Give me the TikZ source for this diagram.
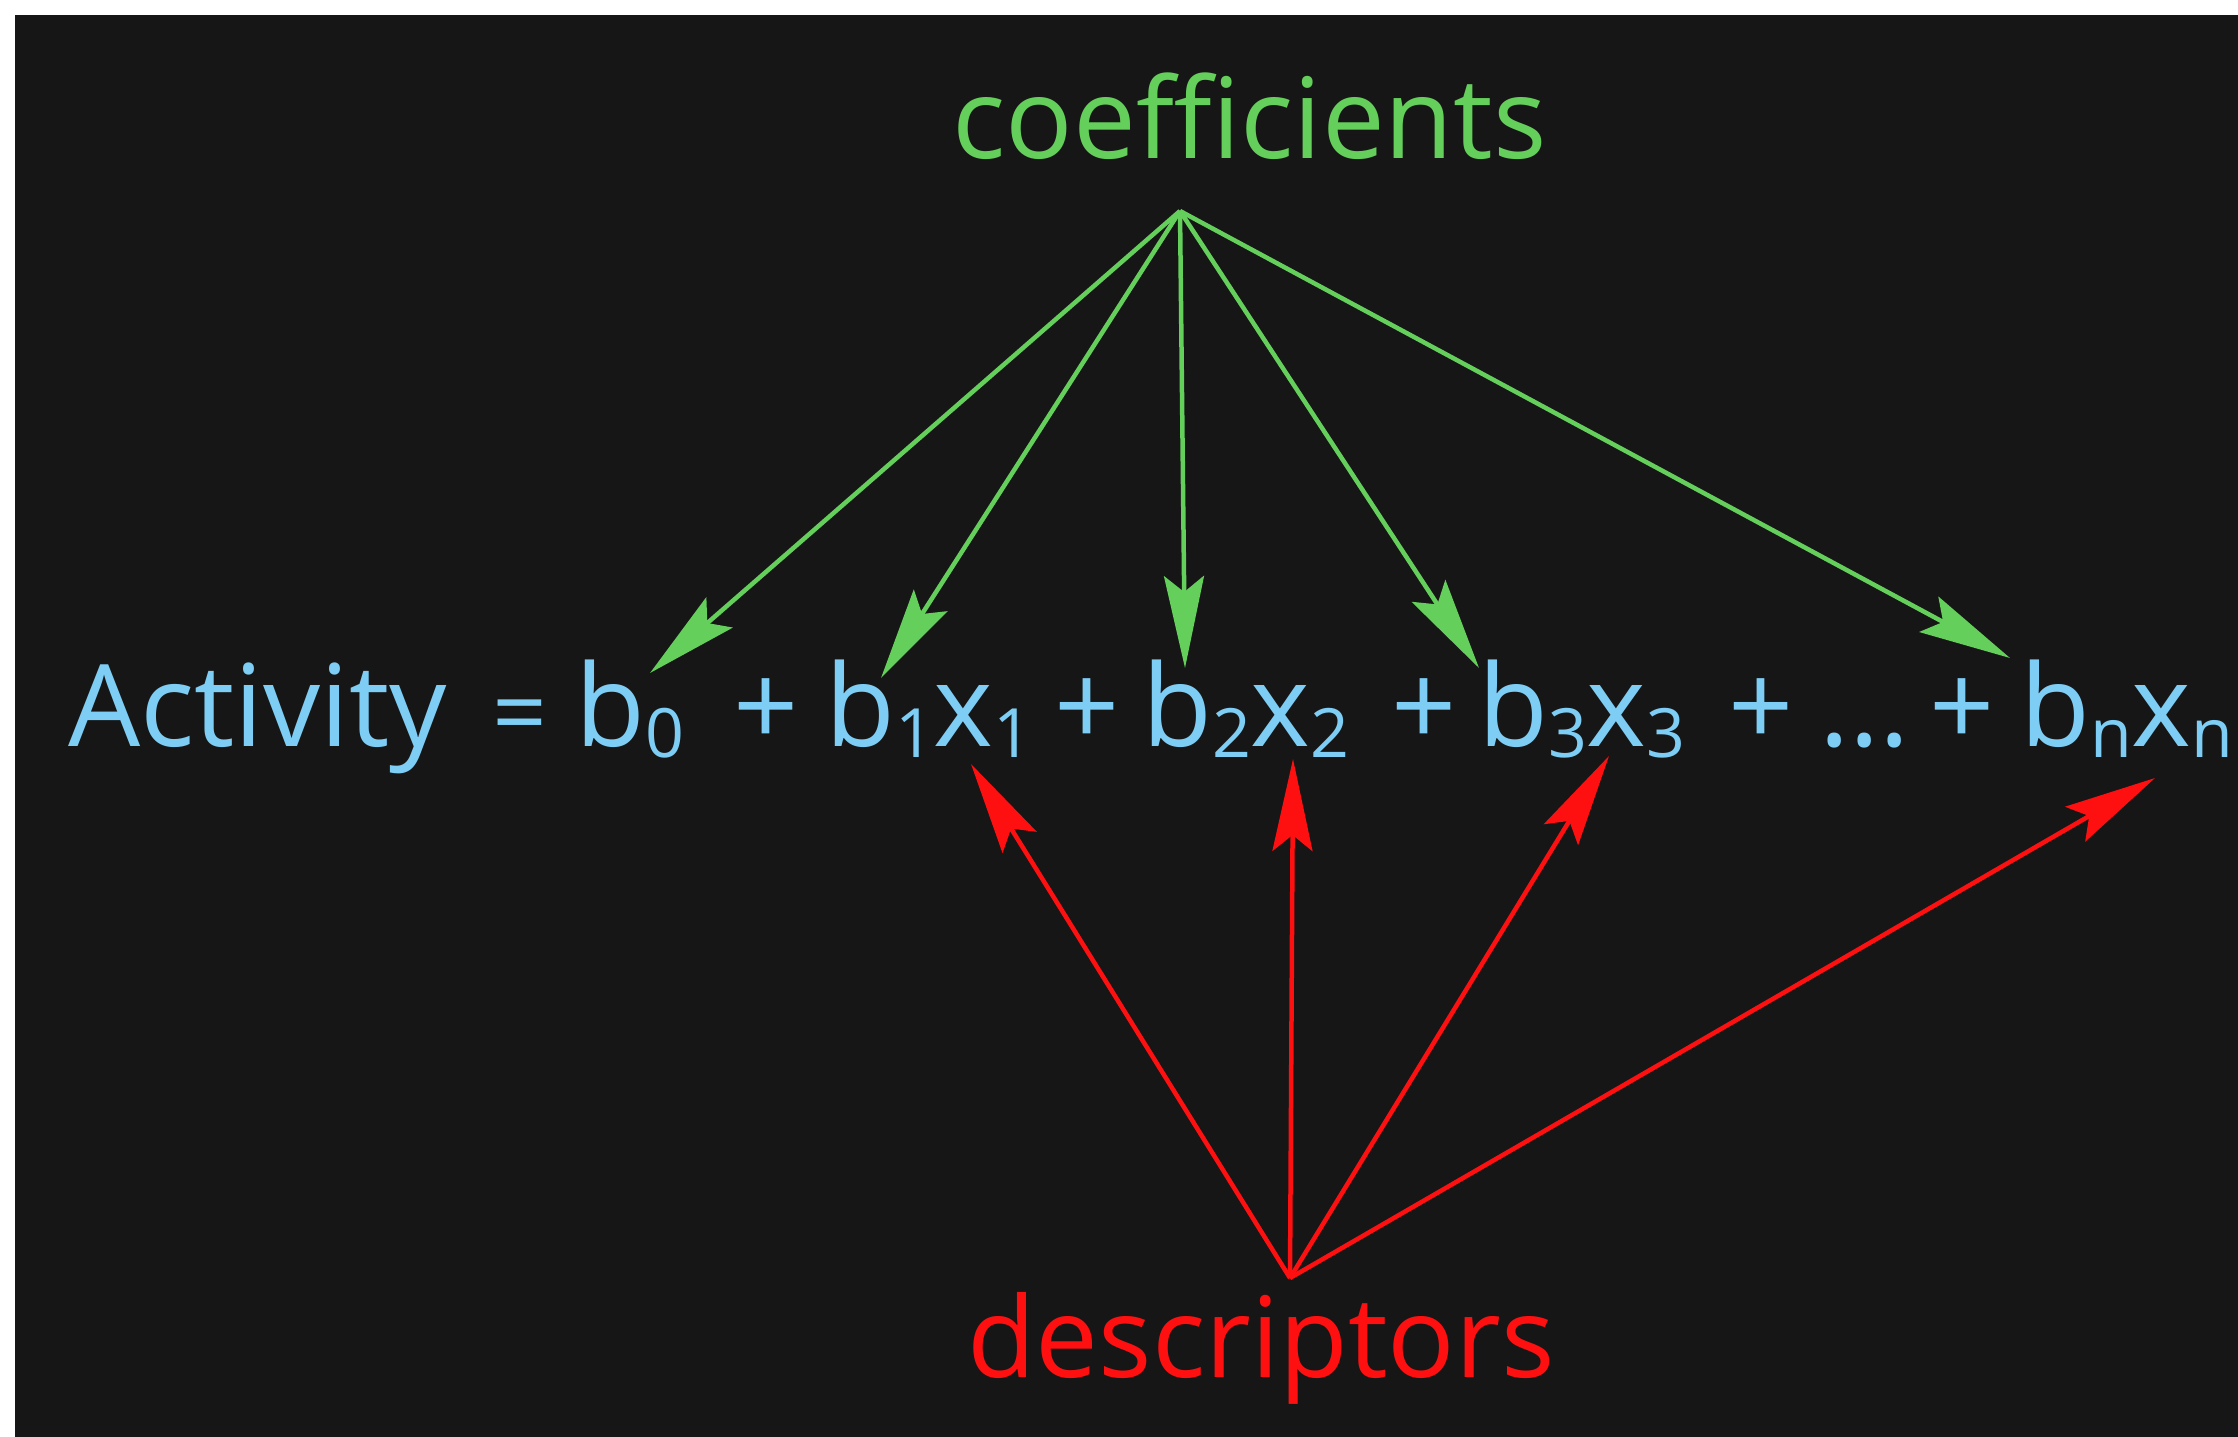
\documentclass[tikz,border=0pt]{standalone}
\usepackage{fontspec}
\setmainfont{Open Sans}
\usetikzlibrary{arrows.meta}
\definecolor{bgdark}{HTML}{161616}
\definecolor{coefgreen}{HTML}{64CF5A}
\definecolor{eqblue}{HTML}{7DCDF5}
\definecolor{descred}{HTML}{FF1010}
\newcommand{\lowsub}[1]{\raisebox{-11pt}{\fontsize{68}{76}\selectfont #1}}
\newcommand{\eqfont}{\fontsize{114}{130}\selectfont}
\newcommand{\lblfont}{\fontsize{112}{130}\selectfont}
\begin{document}
\begin{tikzpicture}[x=1pt,y=-1pt,
  term/.style={anchor=base west, inner sep=0pt, text=eqblue, font=\eqfont},
  lbl/.style={anchor=base west, inner sep=0pt, font=\lblfont},
  tiphead/.style={-{Stealth[length=92pt,width=40pt,inset=16pt]}},
  coefarrow/.style={draw=coefgreen, line width=4.5pt, tiphead},
  descarrow/.style={draw=descred, line width=4.5pt, tiphead}]
\fill[white] (0,0) rectangle (2238,1437);
\fill[bgdark] (15,15) rectangle (2238,1437);
% labels
\node[lbl, text=coefgreen] (coef) at (952,158) {coefficients};
\node[lbl, text=descred] (desc) at (967,1377) {descriptors};
% equation
\node[term] (act) at (68,746) {Activity};
\node[term] (eq) at (492,746) {\fontsize{96}{110}\selectfont =};
\node[term] (tb0) at (575,746) {b\lowsub{0}};
\node[term] (p1) at (733,746) {+};
\node[term] (tb1) at (825,746) {b\lowsub{1}x\lowsub{1}};
\node[term] (p2) at (1054,746) {+};
\node[term] (tb2) at (1142,746) {b\lowsub{2}x\lowsub{2}};
\node[term] (p3) at (1391,746) {+};
\node[term] (tb3) at (1478,746) {b\lowsub{3}x\lowsub{3}};
\node[term] (p4) at (1728,746) {+};
\node[term] (dots) at (1819,746) {...};
\node[term] (p5) at (1929,746) {+};
\node[term] (tbn) at (2020,746) {b\lowsub{n}x\lowsub{n}};
% connector ends
\coordinate (gsrc) at (1180,211);
\coordinate (gb0) at (650,673);
\coordinate (gb1) at (881,678);
\coordinate (gb2) at (1185,668);
\coordinate (gb3) at (1479,668);
\coordinate (gbn) at (2010,658);
\coordinate (rsrc) at (1290,1278);
\coordinate (rx1) at (971,764);
\coordinate (rx2) at (1293,759);
\coordinate (rx3) at (1609,756);
\coordinate (rxn) at (2155,778);
\draw[coefarrow] (gsrc) -- (gb0);
\draw[coefarrow] (gsrc) -- (gb1);
\draw[coefarrow] (gsrc) -- (gb2);
\draw[coefarrow] (gsrc) -- (gb3);
\draw[coefarrow] (gsrc) -- (gbn);
\draw[descarrow] (rsrc) -- (rx1);
\draw[descarrow] (rsrc) -- (rx2);
\draw[descarrow] (rsrc) -- (rx3);
\draw[descarrow] (rsrc) -- (rxn);
\end{tikzpicture}
\end{document}
